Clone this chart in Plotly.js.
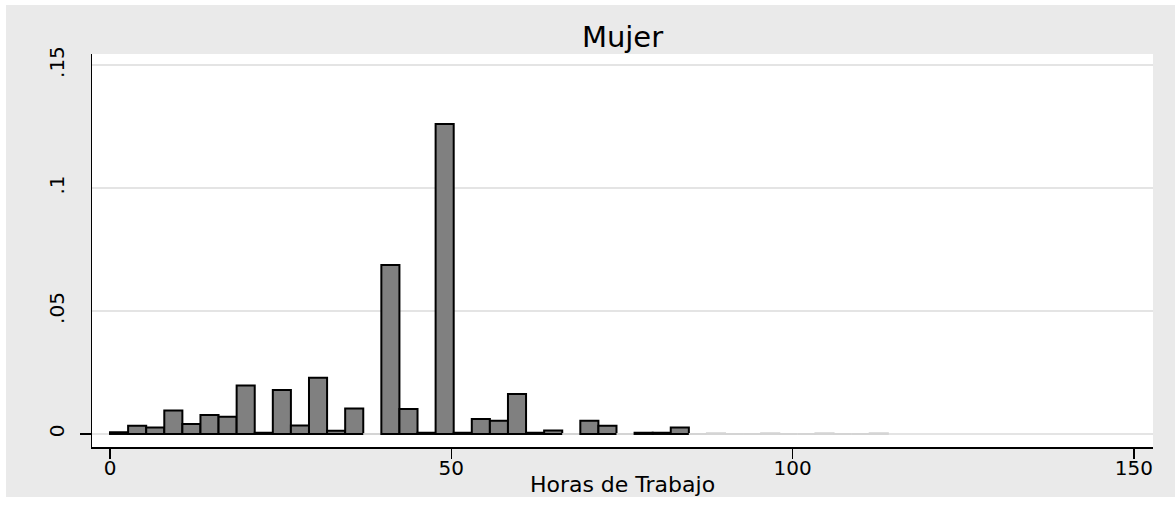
<!DOCTYPE html>
<html>
<head>
<meta charset="utf-8">
<script src="https://cdn.plot.ly/plotly-3.0.1.min.js"></script>
<style>
  html, body { margin: 0; padding: 0; background: #ffffff; width: 1175px; height: 510px; overflow: hidden; }
  #chart { position: absolute; left: 6px; top: 5px; width: 1169px; height: 492px; }
</style>
</head>
<body>
<div id="chart"></div>
<script>
// Histogram of hours worked (women), density per bin
const binStart = 0;
const binWidth = 2.65;
const density = [
  0.0007, 0.0033, 0.0026, 0.0095, 0.0041, 0.0077, 0.0070, 0.0197, 0.0005, 0.0179,
  0.0034, 0.0229, 0.0013, 0.0104, 0.0000, 0.0687, 0.0102, 0.0005, 0.1260, 0.0005,
  0.0061, 0.0054, 0.0162, 0.0005, 0.0014, 0.0000, 0.0054, 0.0033, 0.0000, 0.0005,
  0.0005, 0.0026, 0.0000, 0.0003, 0.0000, 0.0000, 0.0003, 0.0000, 0.0000, 0.0003,
  0.0000, 0.0000, 0.0003
];
const xTickVals = [0, 50, 100, 150];
const xTickText = ['0', '50', '100', '150'];
const yTickVals = [0, 0.05, 0.1, 0.15];
const yTickText = ['0', '.05', '.1', '.15'];
const chartTitle = 'Mujer';
const xTitle = 'Horas de Trabajo';

const binCenters = density.map((_, i) => binStart + binWidth * (i + 0.5));
const lineColors = density.map(v => (v < 0.0004 ? '#d4d4d4' : '#000000'));
const fillColors = density.map(v => (v < 0.0004 ? '#d4d4d4' : '#808080'));

const FONT = 'DejaVu Sans, Liberation Sans, Arial, sans-serif';
const yRange = [-0.0053, 0.1545];

const trace = {
  type: 'bar',
  x: binCenters,
  y: density,
  width: binWidth,
  marker: { color: fillColors, line: { color: lineColors, width: 2 } },
  hoverinfo: 'x+y',
  showlegend: false
};

// empty trace so the secondary y axis (carrying only the 0 tick) is drawn
const tickHolder = {
  type: 'scatter', mode: 'markers', x: [], y: [], yaxis: 'y2', xaxis: 'x',
  showlegend: false, hoverinfo: 'skip'
};

const layout = {
  width: 1169,
  height: 492,
  paper_bgcolor: '#eaeaea',
  plot_bgcolor: '#ffffff',
  margin: { l: 86, r: 22, t: 49, b: 50, pad: 0 },
  bargap: 0,
  title: {
    text: chartTitle,
    font: { family: FONT, size: 29, color: '#000000' },
    x: 0.5, xref: 'paper', xanchor: 'center',
    y: 0.936, yref: 'container', yanchor: 'middle'
  },
  xaxis: {
    range: [-2.64, 152.8],
    tickvals: xTickVals,
    ticktext: xTickText,
    ticks: 'outside', ticklen: 10, tickwidth: 1.5, tickcolor: '#000000',
    ticklabelstandoff: -8,
    showline: true, linecolor: '#000000', linewidth: 1.5,
    showgrid: false, zeroline: false,
    tickfont: { family: FONT, size: 20, color: '#000000' },
    title: { text: xTitle, font: { family: FONT, size: 22, color: '#000000' }, standoff: 4 }
  },
  yaxis: {
    range: yRange,
    tickvals: yTickVals,
    ticktext: yTickText,
    tickangle: -90,
    ticks: '',
    ticklabelstandoff: 19,
    showline: true, linecolor: '#000000', linewidth: 1.5,
    showgrid: true, gridcolor: '#e4e4e4', gridwidth: 1.5,
    zeroline: false,
    tickfont: { family: FONT, size: 20, color: '#000000' }
  },
  yaxis2: {
    overlaying: 'y', anchor: 'x', side: 'left',
    range: yRange,
    tickvals: [0],
    ticks: 'outside', ticklen: 11, tickwidth: 1.5, tickcolor: '#000000',
    showticklabels: false, showline: false, showgrid: false, zeroline: false
  }
};

Plotly.newPlot('chart', [trace, tickHolder], layout, { displayModeBar: false, staticPlot: true });
</script>
</body>
</html>
